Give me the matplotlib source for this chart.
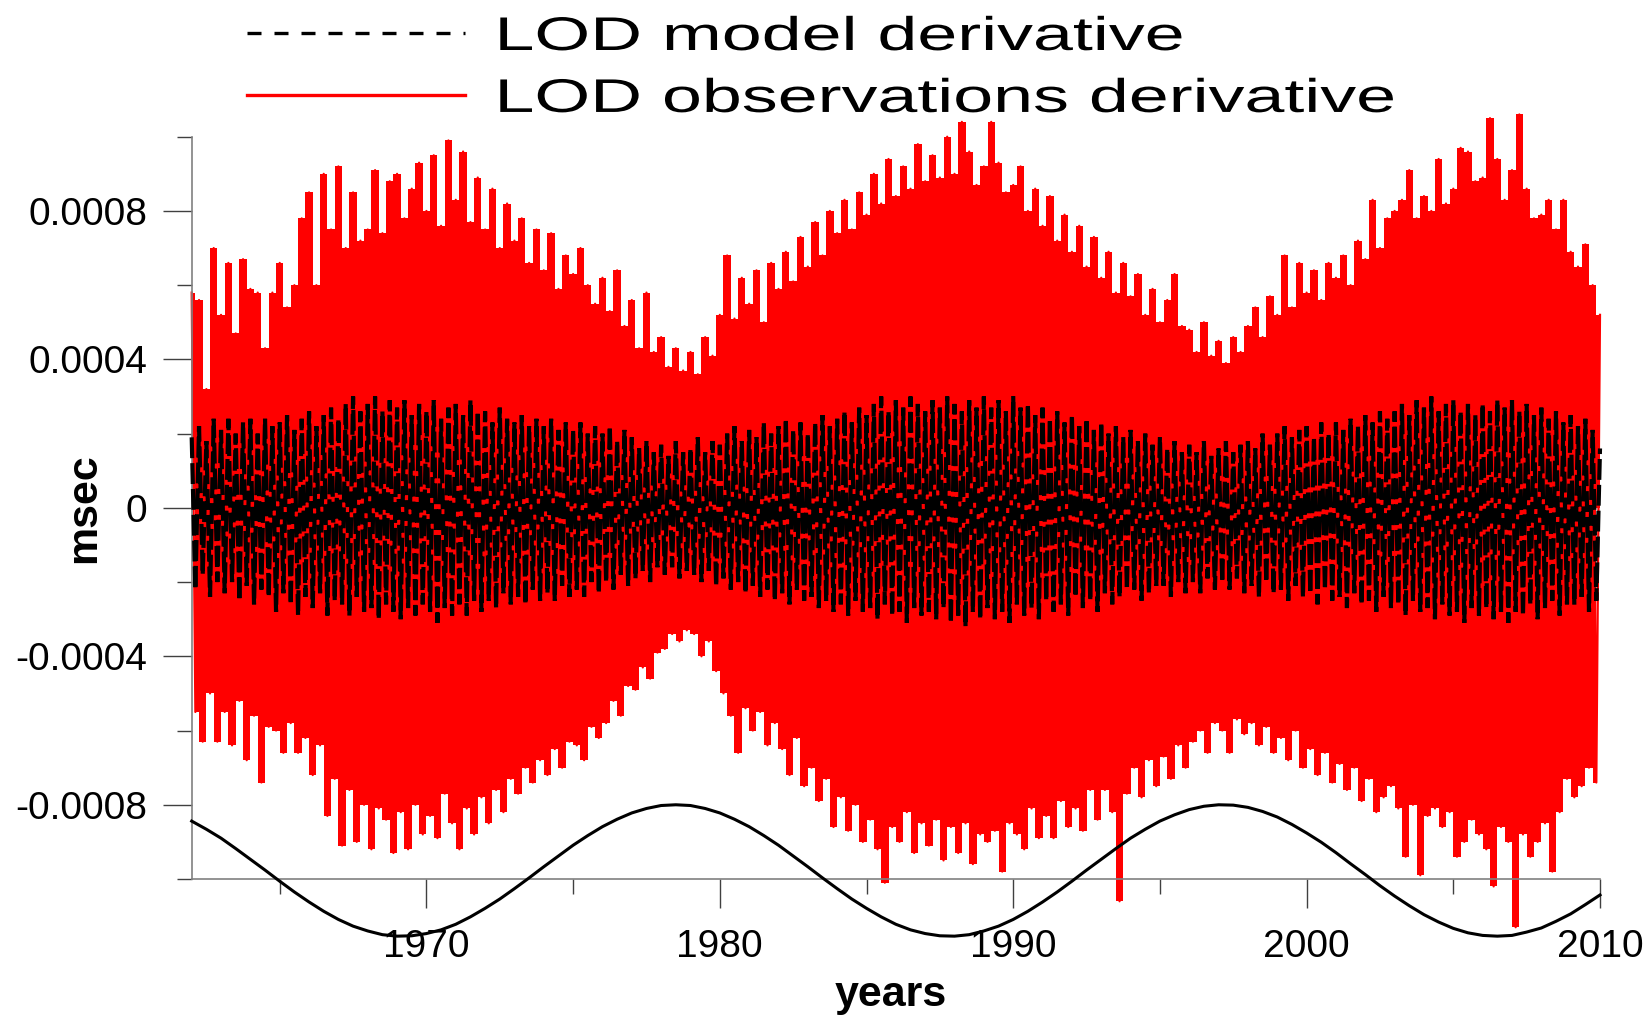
import numpy as np
import matplotlib
matplotlib.use("Agg")
import matplotlib.pyplot as plt
from matplotlib.patheffects import AbstractPathEffect
from matplotlib.transforms import Affine2D
from matplotlib.lines import Line2D

plt.rcParams['font.family'] = ['Liberation Sans', 'DejaVu Sans']

UNIT = 1e-4  # values below are in units of 1e-4 msec

# LOD observations derivative: spike tops at 1962.00, 1962.25, ... 2010.00
obs_top = [
    5.8, 5.6, 3.2, 7.0,  5.2, 6.6, 4.7, 6.7,  5.9, 5.8, 4.3, 5.8,  6.6, 5.4, 6.0, 7.8,
    8.5, 6.0, 9.0, 7.5,  9.2, 7.0, 8.5, 7.2,  7.5, 9.1, 7.4, 8.8,  9.0, 7.8, 8.6, 9.3,
    8.0, 9.5, 7.6, 9.9,  8.3, 9.6, 7.7, 8.9,  7.5, 8.6, 7.0, 8.2,  7.2, 7.8, 6.6, 7.5,
    6.4, 7.4, 5.9, 6.8,  6.3, 7.0, 6.0, 5.5,  6.2, 5.3, 6.4, 4.9,  5.6, 4.3, 5.8, 4.2,
    4.6, 3.8, 4.3, 3.7,  4.2, 3.6, 4.6, 4.1,  5.2, 6.8, 5.1, 6.2,  5.5, 6.4, 5.0, 6.6,
    5.9, 6.9, 6.1, 7.3,  6.5, 7.7, 6.8, 8.0,  7.4, 8.3, 7.5, 8.5,  7.9, 9.0, 8.2, 9.4,
    8.4, 9.2, 8.6, 9.8,  8.8, 9.5, 8.9, 10.0, 9.0, 10.4, 9.6, 8.7, 9.2, 10.4, 9.3, 8.5,
    8.7, 9.2, 8.0, 8.6,  7.6, 8.4, 7.2, 7.9,  6.9, 7.6, 6.5, 7.3,  6.2, 6.9, 5.8, 6.6,
    5.7, 6.3, 5.2, 5.9,  5.0, 5.6, 6.3, 4.9,  4.8, 4.2, 5.0, 4.1,  4.5, 3.9, 4.6, 4.2,
    4.9, 5.4, 4.6, 5.7,  5.2, 6.8, 5.4, 6.6,  5.8, 6.4, 5.6, 6.6,  6.2, 6.8, 6.0, 7.2,
    6.7, 8.3, 7.0, 7.8,  8.0, 8.3, 9.1, 7.8,  8.4, 8.0, 9.4, 8.2,  8.6, 9.7, 9.6, 8.8,
    8.9, 10.5, 9.4, 8.3, 9.1, 10.6, 8.6, 7.8, 7.9, 8.3, 7.5, 8.3,  6.9, 6.5, 7.1, 6.0,
    5.2,
]
# LOD observations derivative: spike bottoms at 1962.125, 1962.375, ... 2009.875
obs_bottom = [
    -5.5, -6.3, -5.0, -6.3,  -5.5, -6.4, -5.2, -6.8,  -5.6, -7.4, -5.9, -6.0,  -6.6, -5.8, -6.6, -6.2,
    -7.2, -6.4, -8.3, -7.3,  -9.1, -7.6, -9.0, -8.0,  -9.2, -8.1, -8.4, -9.3,  -8.2, -9.2, -8.0, -8.8,
    -8.3, -8.9, -7.7, -8.5,  -9.2, -8.1, -8.8, -7.8,  -8.5, -7.6, -8.2, -7.3,  -7.7, -7.0, -7.4, -6.8,
    -7.2, -6.5, -7.0, -6.3,  -6.4, -6.8, -5.9, -6.2,  -5.8, -5.2, -5.6, -4.8,  -4.9, -4.3, -4.6, -3.9,
    -3.8, -3.4, -3.6, -3.3,  -3.4, -4.0, -3.6, -4.4,  -5.0, -5.6, -6.6, -5.4,  -6.0, -5.5, -6.4, -5.8,
    -6.5, -7.2, -6.2, -7.5,  -7.0, -7.9, -7.3, -8.6,  -7.8, -8.7, -8.0, -9.0,  -8.4, -9.2, -10.1, -8.6,
    -9.0, -8.2, -9.3, -8.5,  -9.1, -8.4, -9.5, -8.6,  -9.3, -8.5, -9.6, -8.8,  -9.0, -8.7, -9.8, -8.5,
    -8.8, -9.2, -8.1, -8.9,  -8.3, -8.9, -7.9, -8.6,  -8.1, -8.7, -7.6, -8.4,  -7.6, -8.2, -10.6, -7.7,
    -7.0, -7.8, -6.8, -7.5,  -6.7, -7.3, -6.4, -7.0,  -6.3, -6.0, -6.6, -5.8,  -6.0, -6.6, -5.7, -6.1,
    -5.8, -6.4, -5.9, -6.6,  -6.2, -6.8, -6.0, -7.0,  -6.5, -7.2, -6.6, -7.4,  -6.9, -7.6, -7.0, -7.9,
    -7.3, -8.2, -7.8, -7.5,  -8.1, -9.4, -8.0, -9.9,  -8.3, -8.1, -8.6, -8.2,  -9.4, -9.0, -8.4, -8.8,
    -9.2, -10.2, -8.6, -9.0, -11.3, -8.8, -9.4, -9.0, -8.5, -9.8, -8.2, -7.3,  -7.8, -7.5, -7.0, -7.4,
]
# LOD model derivative: tops at 1962.00 ... 2010.00
model_top = [
    1.9, 2.2, 1.8, 2.4,  2.1, 2.4, 2.0, 2.3,  2.4, 2.0, 2.4, 2.2,  2.3, 2.5, 2.1, 2.4,
    2.6, 2.2, 2.5, 2.7,  2.4, 2.8, 3.0, 2.6,  2.8, 3.0, 2.6, 2.9,  2.7, 2.9, 2.5, 2.8,
    2.6, 2.9, 2.4, 2.7,  2.8, 2.5, 2.9, 2.6,  2.6, 2.3, 2.7, 2.4,  2.3, 2.5, 2.2, 2.4,
    2.2, 2.4, 2.1, 2.3,  2.1, 2.3, 2.0, 2.2,  2.0, 2.2, 1.8, 2.1,  1.9, 1.6, 1.8, 1.5,
    1.7, 1.4, 1.8, 1.5,  1.6, 1.9, 1.5, 1.8,  1.7, 2.0, 2.2, 1.8,  2.1, 1.9, 2.3, 2.0,
    2.2, 2.4, 2.1, 2.3,  2.0, 2.3, 2.5, 2.2,  2.4, 2.6, 2.3, 2.7,  2.5, 2.8, 3.0, 2.6,
    2.9, 2.7, 3.0, 2.8,  2.6, 2.9, 2.7, 3.0,  2.8, 2.6, 2.9, 2.7,  3.0, 2.7, 2.9, 2.6,
    3.0, 2.7, 2.8, 2.5,  2.7, 2.4, 2.6, 2.3,  2.5, 2.2, 2.4, 2.1,  2.3, 2.0, 2.2, 1.9,
    2.1, 1.8, 2.0, 1.7,  1.9, 1.6, 1.8, 1.5,  1.7, 1.5, 1.8, 1.4,  1.6, 1.8, 1.5, 1.7,
    1.8, 1.6, 2.0, 1.7,  2.0, 2.2, 1.9, 2.1,  2.2, 1.9, 2.3, 2.0,  2.3, 2.1, 2.4, 2.2,
    2.5, 2.3, 2.6, 2.4,  2.6, 2.8, 2.5, 2.9,  2.7, 3.0, 2.6, 2.8,  2.9, 2.6, 2.8, 2.5,
    2.8, 2.6, 2.9, 2.7,  2.9, 2.6, 2.8, 2.5,  2.7, 2.4, 2.6, 2.3,  2.5, 2.2, 2.4, 2.1,
    1.6,
]
# LOD model derivative: bottoms at 1962.125 ... 2009.875
model_bottom = [
    -2.2, -1.8, -2.4, -2.0,  -2.3, -2.0, -2.5, -2.1,  -2.6, -2.2, -2.4, -2.8,  -2.3, -2.6, -2.9, -2.4,
    -2.7, -2.3, -2.9, -2.5,  -2.6, -2.9, -2.4, -2.8,  -2.7, -3.0, -2.6, -2.8,  -3.0, -2.7, -2.9, -2.6,
    -2.8, -3.1, -2.7, -2.9,  -2.6, -2.9, -2.5, -2.8,  -2.5, -2.7, -2.3, -2.6,  -2.4, -2.6, -2.2, -2.5,
    -2.3, -2.5, -2.1, -2.4,  -2.2, -2.4, -2.0, -2.3,  -2.0, -2.2, -1.8, -2.1,  -1.9, -1.7, -2.0, -1.6,
    -1.8, -1.6, -1.9, -1.7,  -1.8, -2.0, -1.7, -2.1,  -1.9, -2.2, -2.0, -2.3,  -2.1, -2.4, -2.2, -2.5,
    -2.3, -2.6, -2.2, -2.5,  -2.4, -2.7, -2.5, -2.8,  -2.6, -2.9, -2.5, -2.8,  -2.7, -3.0, -2.6, -2.9,
    -2.8, -3.1, -2.7, -2.9,  -2.8, -3.0, -2.7, -3.1,  -2.9, -3.2, -2.8, -3.0,  -2.7, -3.0, -2.8, -3.1,
    -2.6, -2.9, -2.7, -3.0,  -2.5, -2.8, -2.6, -2.9,  -2.4, -2.7, -2.5, -2.8,  -2.3, -2.6, -2.4, -2.2,
    -2.2, -2.5, -2.3, -2.1,  -2.1, -2.4, -2.0, -2.3,  -2.0, -2.3, -1.9, -2.2,  -2.0, -2.2, -1.9, -2.3,
    -2.1, -2.4, -2.0, -2.3,  -2.2, -2.5, -2.1, -2.4,  -2.3, -2.6, -2.2, -2.5,  -2.4, -2.7, -2.3, -2.6,
    -2.5, -2.8, -2.4, -2.7,  -2.6, -2.9, -2.5, -2.8,  -2.7, -3.0, -2.6, -2.9,  -2.8, -3.1, -2.7, -2.9,
    -2.7, -3.0, -2.8, -3.1,  -2.8, -2.9, -2.6, -3.0,  -2.7, -2.5, -2.9, -2.6,  -2.6, -2.4, -2.8, -2.5,
]
# smooth long-period curve drawn at the bottom, half-yearly 1962.0..2010.0
cycle_values = [
    -8.44, -8.66, -8.90, -9.18, -9.47, -9.76, -10.06, -10.35, -10.62, -10.87,
    -11.09, -11.27, -11.40, -11.50, -11.54, -11.53, -11.47, -11.37, -11.22, -11.02,
    -10.79, -10.54, -10.26, -9.97, -9.67, -9.38, -9.09, -8.83, -8.59, -8.39,
    -8.22, -8.10, -8.02, -8.00, -8.02, -8.10, -8.22, -8.39, -8.59, -8.83,
    -9.09, -9.38, -9.67, -9.97, -10.26, -10.54, -10.79, -11.02, -11.22, -11.37,
    -11.47, -11.53, -11.54, -11.50, -11.40, -11.27, -11.09, -10.87, -10.62, -10.35,
    -10.06, -9.76, -9.47, -9.18, -8.90, -8.66, -8.44, -8.27, -8.13, -8.04,
    -8.00, -8.01, -8.07, -8.18, -8.33, -8.53, -8.76, -9.01, -9.29, -9.59,
    -9.88, -10.18, -10.46, -10.72, -10.96, -11.16, -11.33, -11.45, -11.52, -11.54,
    -11.52, -11.43, -11.32, -11.14, -10.94, -10.69, -10.43,
]
cycle_years = 1962.0 + 0.5 * np.arange(len(cycle_values))

y_major = [-0.0008, -0.0004, 0.0, 0.0004, 0.0008]
y_major_labels = ["-0.0008", "-0.0004", "0", "0.0004", "0.0008"]
y_minor = [-0.001, -0.0006, -0.0002, 0.0002, 0.0006, 0.001]
x_major = [1970, 1980, 1990, 2000, 2010]
x_major_labels = ["1970", "1980", "1990", "2000", "2010"]
x_minor = [1965, 1975, 1985, 1995, 2005]

t_top = 1962.0 + 0.25 * np.arange(len(obs_top))
t_bot = 1962.125 + 0.25 * np.arange(len(obs_bottom))


def zigzag(top, bot):
    n = len(top) + len(bot)
    x = np.empty(n)
    y = np.empty(n)
    x[0::2] = t_top
    x[1::2] = t_bot
    y[0::2] = np.asarray(top) * UNIT
    y[1::2] = np.asarray(bot) * UNIT
    return x, y


class HStretch(AbstractPathEffect):
    def __init__(self, sx):
        super().__init__()
        self.sx = sx

    def draw_path(self, renderer, gc, tpath, affine, rgbFace=None):
        renderer.draw_path(gc, tpath, Affine2D().scale(self.sx, 1.0) + affine, rgbFace)


RED = '#ff0000'
fig = plt.figure(figsize=(16.49, 10.21), dpi=100)
ax = fig.add_axes([191.7 / 1649, 1 - 879 / 1021, 1408.3 / 1649, 742.3 / 1021])

# observations: dense oscillation rendered as a filled spiky band
ax.fill_between(t_top, 0, np.asarray(obs_top) * UNIT, step='mid', color=RED,
                lw=0, zorder=1.5, clip_on=False)
ax.fill_between(t_bot, np.asarray(obs_bottom) * UNIT, 0, step='mid', color=RED,
                lw=0, zorder=1.5, clip_on=False)
ox, oy = zigzag(obs_top, obs_bottom)
ax.plot(ox, oy, color=RED, lw=1.6, clip_on=False, zorder=2)
mx, my = zigzag(model_top, model_bottom)
ax.plot(mx, my, color='black', lw=3.0, linestyle=(0, (5.0, 1.2)),
        clip_on=False, zorder=3, dash_joinstyle='bevel', dash_capstyle='butt')
ax.plot(cycle_years, np.asarray(cycle_values) * UNIT, color='black', lw=2.2,
        clip_on=False, zorder=4)

ax.set_xlim(1962, 2010)
ax.set_ylim(-0.001, 0.001)

for s in ['top', 'right']:
    ax.spines[s].set_visible(False)
for s in ['left', 'bottom']:
    ax.spines[s].set_color('#808080')
    ax.spines[s].set_linewidth(1.2)

ax.set_yticks(y_major)
ax.set_yticklabels(y_major_labels)
ax.set_yticks(y_minor, minor=True)
ax.set_xticks(x_major)
ax.set_xticklabels(x_major_labels)
ax.set_xticks(x_minor, minor=True)

ax.tick_params(axis='both', which='major', length=21, width=1.0, color='#404040',
               labelsize=28, direction='out')
ax.tick_params(axis='both', which='minor', length=10.5, width=1.0, color='#404040',
               direction='out')
ax.tick_params(axis='y', which='major', pad=11.0)
ax.tick_params(axis='x', which='major', pad=15.0)

ax.set_ylabel('msec', fontsize=31, fontweight='bold')
ax.yaxis.set_label_coords(-0.0623, 0.5)
ax.set_xlabel('years', fontsize=31, fontweight='bold')
ax.xaxis.set_label_coords(0.4966, -0.129)

model_handle = Line2D([], [], color='black', lw=2.4, linestyle=(0, (4.2, 3.9)))
obs_handle = Line2D([], [], color=RED, lw=2.4)
leg = fig.legend(handles=[model_handle, obs_handle],
                 labels=['LOD model derivative', 'LOD observations derivative'],
                 loc='upper left', bbox_to_anchor=(247 / 1649, 1 - 16 / 1021),
                 frameon=False, fontsize=34, handlelength=4.62, handletextpad=0.62,
                 labelspacing=0.38, borderpad=0, borderaxespad=0)
for t in leg.get_texts():
    t.set_path_effects([HStretch(1.52)])

fig.savefig('out.png', dpi=100)
